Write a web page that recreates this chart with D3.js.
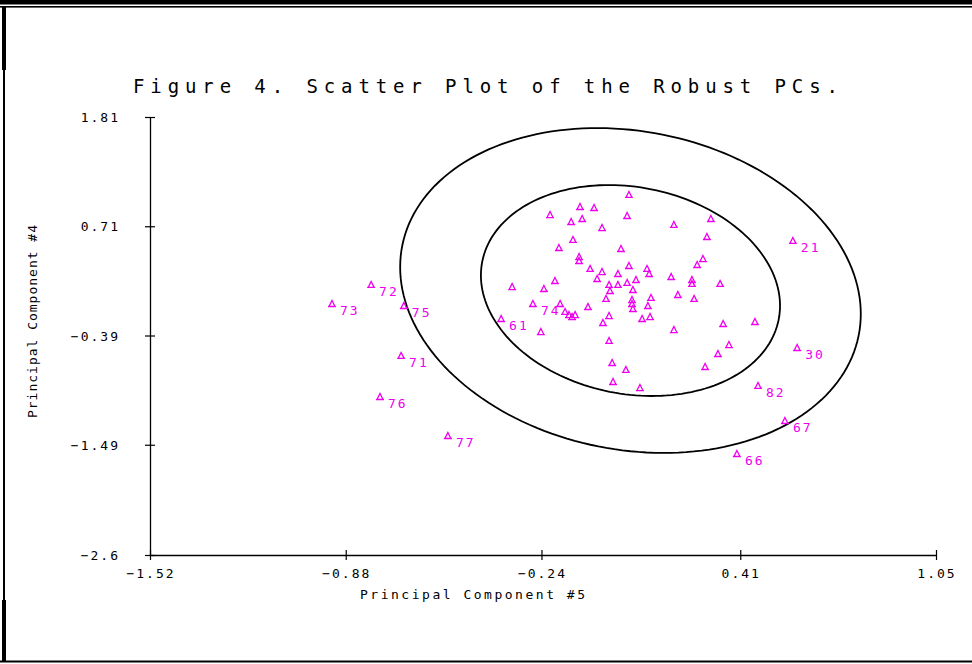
<!DOCTYPE html>
<html>
<head>
<meta charset="utf-8">
<script src="https://cdn.jsdelivr.net/npm/d3@7"></script>
<style>
  html, body { margin: 0; padding: 0; background: #fff; }
  svg { display: block; }
  text { font-family: "DejaVu Sans Mono", "Liberation Mono", monospace; }
</style>
</head>
<body>
<svg id="chart" width="972" height="664"></svg>
<script>
// Axis ticks
const xTicks = [-1.52, -0.88, -0.24, 0.41, 1.05];
const xTickLabels = ["\u22121.52", "\u22120.88", "\u22120.24", "0.41", "1.05"];
const yTicks = [1.81, 0.71, -0.39, -1.49, -2.6];
const yTickLabels = ["1.81", "0.71", "\u22120.39", "\u22121.49", "\u22122.6"];

// Robust principal component scores (PC #5, PC #4) and observation labels for outliers
const pc5 = [
  0.046, -0.114, -0.068, -0.212, 0.040, -0.143, -0.107, -0.042, 0.193, 0.314,
  -0.137, -0.183, 0.020, 0.301, -0.117, -0.117, 0.288, 0.269, -0.081, -0.042,
  0.046, 0.105, 0.112, 0.010, -0.058, 0.184, 0.252, 0.252, 0.344, 0.069,
  0.040, 0.010, -0.019, -0.016, 0.059, -0.196, -0.336, -0.232, 0.118, 0.056,
  0.056, -0.029, 0.206, 0.259, -0.268, -0.179, 0.059, 0.108, -0.088, -0.163,
  -0.150, -0.130, -0.140, -0.019, 0.089, 0.115, -0.039, -0.372, -0.242, 0.193,
  0.354, 0.373, 0.337, 0.295, -0.019, -0.009, 0.036, -0.006, 0.082, 0.458,
  -0.797, -0.925, -0.690, -0.699, -0.768, -0.546, 0.582, 0.596, 0.468, 0.556,
  0.399
];
const pc4 = [
  1.025, 0.904, 0.894, 0.823, 0.813, 0.753, 0.783, 0.692, 0.723, 0.783,
  0.572, 0.491, 0.481, 0.602, 0.400, 0.360, 0.380, 0.320, 0.280, 0.249,
  0.310, 0.280, 0.229, 0.229, 0.179, 0.199, 0.169, 0.129, 0.129, 0.169,
  0.139, 0.119, 0.119, 0.058, 0.068, 0.159, 0.098, 0.078, -0.012, -0.033,
  -0.073, -0.022, 0.018, -0.022, -0.073, -0.073, -0.123, -0.093, -0.103, -0.153,
  -0.184, -0.184, -0.204, -0.194, -0.224, -0.204, -0.264, -0.224, -0.355, -0.335,
  -0.274, -0.486, -0.576, -0.707, -0.445, -0.667, -0.737, -0.858, -0.919, -0.254,
  0.119, -0.073, -0.093, -0.596, -1.009, -1.402, 0.562, -0.516, -0.898, -1.251,
  -1.583
];
const obsLabels = [
  "", "", "", "", "", "", "", "", "", "",
  "", "", "", "", "", "", "", "", "", "",
  "", "", "", "", "", "", "", "", "", "",
  "", "", "", "", "", "", "", "", "", "",
  "", "", "", "", "74", "", "", "", "", "",
  "", "", "", "", "", "", "", "61", "", "",
  "", "", "", "", "", "", "", "", "", "",
  "72", "73", "75", "71", "76", "77", "21", "30", "82", "67",
  "66"
];

// Tolerance ellipses: robust centre, spread, correlation, and the two radii
const ellipseCenter = [0.051, 0.063];
const ellipseSpread = [0.489, 1.062];
const ellipseCorr = -0.144;
const ellipseRadii = [1.0, 1.54];

const svg = d3.select("#chart");
const W = 972, H = 664;
const ink = "#000";
const mag = "#ee00ee";

svg.append("rect").attr("width", W).attr("height", H).attr("fill", "#fff");

// Page frame
svg.append("rect").attr("x", 0).attr("y", 0).attr("width", W).attr("height", 4.5).attr("fill", ink);
svg.append("rect").attr("x", 0).attr("y", 6).attr("width", W).attr("height", 1.6).attr("fill", ink);
svg.append("rect").attr("x", 3).attr("y", 7).attr("width", 2).attr("height", 655).attr("fill", ink);
svg.append("rect").attr("x", 2).attr("y", 7).attr("width", 4).attr("height", 63).attr("fill", ink);
svg.append("rect").attr("x", 2).attr("y", 600).attr("width", 4).attr("height", 62).attr("fill", ink);
svg.append("rect").attr("x", 0).attr("y", 660.5).attr("width", W).attr("height", 2).attr("fill", ink);

const x = d3.scaleLinear().domain([xTicks[0], xTicks[xTicks.length - 1]]).range([150, 936]);
const y = d3.scaleLinear().domain([yTicks[yTicks.length - 1], yTicks[0]]).range([555, 117]);

// Title
svg.append("text")
  .attr("x", 133).attr("y", 93)
  .attr("textLength", 705).attr("lengthAdjust", "spacing")
  .attr("font-size", 19).attr("fill", ink)
  .text("Figure 4. Scatter Plot of the Robust PCs.");

// Axes
const xAxis = svg.append("g").attr("transform", `translate(0,${y(yTicks[yTicks.length - 1])})`)
  .call(d3.axisBottom(x).tickValues(xTicks).tickSizeOuter(0).tickSizeInner(5).tickFormat(""));
xAxis.select(".domain").attr("stroke", ink).attr("stroke-width", 1.3);
xAxis.selectAll(".tick line").attr("y1", -5).attr("y2", 5).attr("stroke", ink).attr("stroke-width", 1.2);

const yAxis = svg.append("g").attr("transform", `translate(${x(xTicks[0])},0)`)
  .call(d3.axisLeft(y).tickValues(yTicks).tickSizeOuter(0).tickSizeInner(5).tickFormat(""));
yAxis.select(".domain").attr("stroke", ink).attr("stroke-width", 1.3);
yAxis.selectAll(".tick line").attr("x1", -5).attr("x2", 5).attr("stroke", ink).attr("stroke-width", 1.2);

// Tick labels
svg.append("g").selectAll("text").data(xTicks).join("text")
  .attr("x", d => x(d) + 1).attr("y", 578)
  .attr("text-anchor", "middle").attr("font-size", 13).attr("letter-spacing", 2)
  .attr("fill", ink)
  .text((d, i) => xTickLabels[i]);

svg.append("g").selectAll("text").data(yTicks).join("text")
  .attr("x", 120).attr("y", d => y(d) + 5)
  .attr("text-anchor", "end").attr("font-size", 13).attr("letter-spacing", 2)
  .attr("fill", ink)
  .text((d, i) => yTickLabels[i]);

// Axis titles
svg.append("text")
  .attr("x", 360).attr("y", 599)
  .attr("textLength", 225).attr("lengthAdjust", "spacing")
  .attr("font-size", 13).attr("fill", ink)
  .text("Principal Component #5");

svg.append("text")
  .attr("transform", "translate(37,418) rotate(-90)")
  .attr("textLength", 193).attr("lengthAdjust", "spacing")
  .attr("font-size", 13).attr("fill", ink)
  .text("Principal Component #4");

// Tolerance ellipses drawn in data space through the scales
const L11 = ellipseSpread[0];
const L21 = ellipseCorr * ellipseSpread[1];
const L22 = ellipseSpread[1] * Math.sqrt(1 - ellipseCorr * ellipseCorr);
const steps = d3.range(0, 361, 2).map(a => a * Math.PI / 180);
const ellLine = d3.line().x(p => x(p[0])).y(p => y(p[1]));
svg.append("g").selectAll("path").data(ellipseRadii).join("path")
  .attr("d", r => ellLine(steps.map(t => [
    ellipseCenter[0] + r * L11 * Math.cos(t),
    ellipseCenter[1] + r * (L21 * Math.cos(t) + L22 * Math.sin(t))
  ])))
  .attr("fill", "none").attr("stroke", ink).attr("stroke-width", 1.8);

// Points
const pts = pc5.map((v, i) => ({ x: v, y: pc4[i], label: obsLabels[i] }));
const marker = "M-3,2.5 L0,-3.5 L3,2.5 Z M-4,2.5 H4";
const g = svg.append("g");
g.selectAll("path").data(pts).join("path")
  .attr("transform", d => `translate(${x(d.x)},${y(d.y)})`)
  .attr("d", marker)
  .attr("fill", "none").attr("stroke", mag).attr("stroke-width", 1.3);

g.selectAll("text").data(pts.filter(d => d.label)).join("text")
  .attr("x", d => x(d.x) + 8).attr("y", d => y(d.y) + 11)
  .attr("font-size", 13).attr("letter-spacing", 2)
  .attr("fill", mag)
  .text(d => d.label);
</script>
</body>
</html>
